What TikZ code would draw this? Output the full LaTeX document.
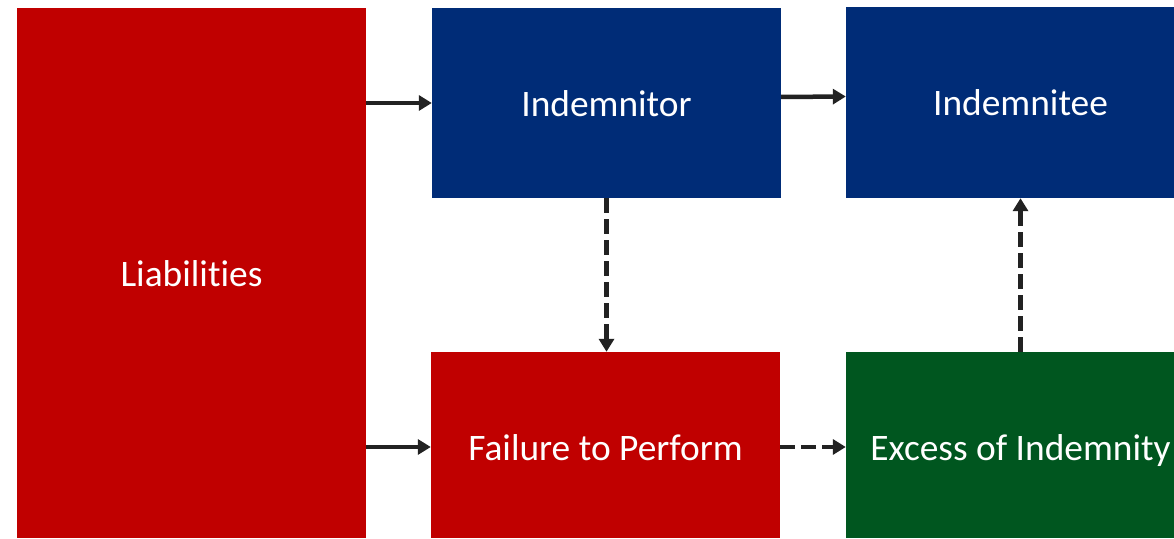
\documentclass[tikz,border=0pt]{standalone}
\usepackage{fontspec}
\setmainfont[Ligatures=NoCommon]{Carlito}
\usetikzlibrary{arrows.meta}
\definecolor{bred}{HTML}{C00000}
\definecolor{bblue}{HTML}{002C77}
\definecolor{bgreen}{HTML}{00561F}
\definecolor{arr}{HTML}{222222}
\tikzset{
  box/.style={rectangle, inner sep=0pt, minimum width=349pt, text=white,
    font=\fontsize{37.4}{44}\selectfont, text height=29pt, text depth=2pt},
  lowbox/.style={box, text height=30pt, text depth=0pt},
  conn/.style={draw=arr, line width=4.5pt, -{Triangle[length=13pt,width=15pt]}},
  dconn/.style={conn, dash pattern=on 15pt off 6pt},
}
\begin{document}
\begin{tikzpicture}[x=1pt,y=1pt]
\useasboundingbox (0,0) rectangle (1174,538);
\clip (0,0) rectangle (1174,538);
\node[box, fill=bred, minimum height=530pt] (liab) at (191.5,265) {Liabilities};
\node[box, fill=bblue, minimum height=190pt] (itor) at (606.5,435) {Indemnitor};
\node[box, fill=bblue, minimum height=191pt] (itee) at (1020.5,435.5) {Indemnitee};
\node[lowbox, fill=bred, minimum height=186pt] (fail) at (605.5,93) {Failure to Perform};
\node[lowbox, fill=bgreen, minimum height=186pt] (exc) at (1020.5,93) {Excess of Indemnity};
\draw[conn] (liab.east |- itor.west) -- (itor.west);
\draw[conn] ([yshift=6pt]itor.east) -- ([yshift=6pt]itee.west);
\draw[conn] ([yshift=-2pt]liab.east |- fail.west) -- ([yshift=-2pt]fail.west);
\draw[dconn] ([yshift=-2pt]fail.east) -- ([yshift=-2pt]exc.west);
\draw[dconn] (itor.south) -- (itor.south |- fail.north);
\draw[dconn] (exc.north) -- (exc.north |- itee.south);
\end{tikzpicture}
\end{document}
